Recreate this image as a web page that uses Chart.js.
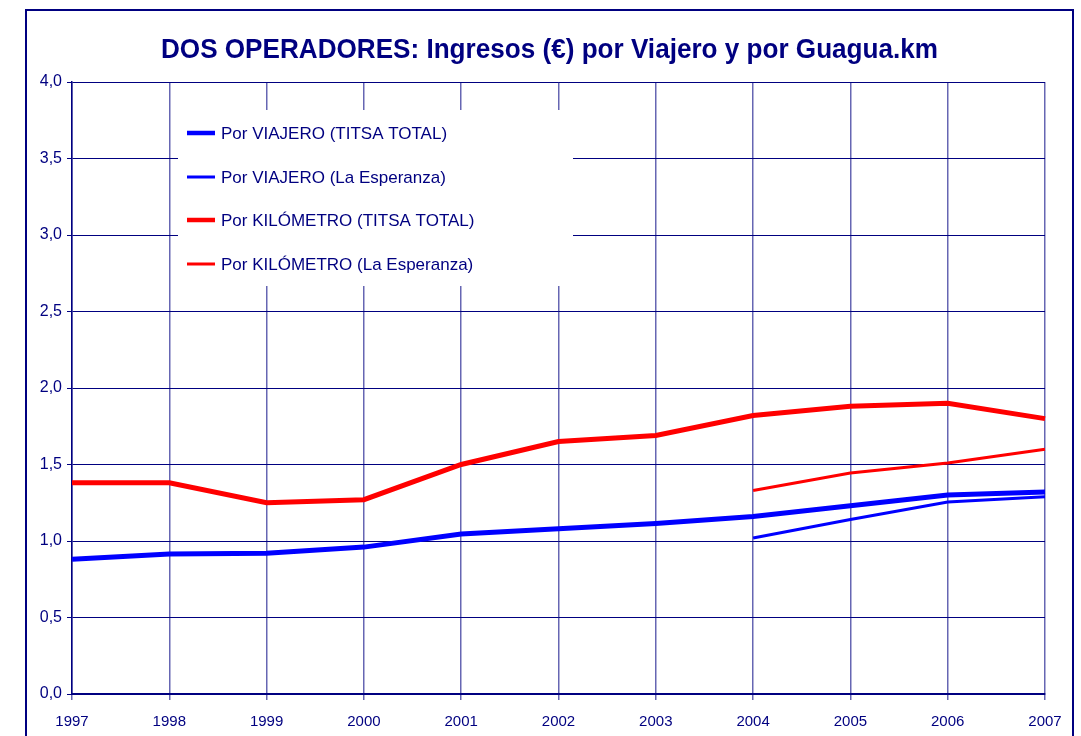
<!DOCTYPE html>
<html>
<head>
<meta charset="utf-8">
<script src="https://cdn.jsdelivr.net/npm/chart.js@4/dist/chart.umd.min.js"></script>
<style>
  body { margin: 0; background: #fff; }
  canvas { display: block; }
</style>
</head>
<body>
<canvas id="grafico" width="1081" height="736"></canvas>
<script>
// datos
const years = ['1997', '1998', '1999', '2000', '2001', '2002', '2003', '2004', '2005', '2006', '2007'];
const viajeroTitsa = [0.88, 0.915, 0.92, 0.96, 1.045, 1.08, 1.115, 1.16, 1.23, 1.30, 1.32];
const viajeroEsperanza = [null, null, null, null, null, null, null, 1.02, 1.14, 1.255, 1.29];
const kmTitsa = [1.38, 1.38, 1.25, 1.27, 1.50, 1.65, 1.69, 1.82, 1.88, 1.90, 1.80];
const kmEsperanza = [null, null, null, null, null, null, null, 1.33, 1.445, 1.51, 1.60];
const titulo = 'DOS OPERADORES: Ingresos (€) por Viajero y por Guagua.km';

const NAVY = '#000080';
const FONT = "'Liberation Sans', Arial, sans-serif";

// marco exterior y titulo (algo estrecho, como en el original)
const marco = {
  id: 'marco',
  beforeDraw(chart) {
    const ctx = chart.ctx;
    ctx.save();
    ctx.fillStyle = '#fff';
    ctx.fillRect(0, 0, chart.width, chart.height);
    ctx.strokeStyle = NAVY;
    ctx.lineWidth = 2;
    ctx.strokeRect(26, 10, 1047, 800);

    ctx.font = 'bold 28px ' + FONT;
    ctx.fillStyle = NAVY;
    ctx.textBaseline = 'alphabetic';
    ctx.textAlign = 'left';
    const w = ctx.measureText(titulo).width;
    ctx.translate(161, 58);
    ctx.scale(777 / w, 1);
    ctx.fillText(titulo, 0, 0);
    ctx.restore();
  }
};

// leyenda dentro del area del grafico, con fondo blanco
const leyenda = {
  id: 'leyenda',
  beforeDatasetsDraw(chart) {
    const ctx = chart.ctx;
    ctx.save();
    ctx.fillStyle = '#fff';
    ctx.fillRect(178, 110, 395, 176);
    ctx.font = '17px ' + FONT;
    ctx.textBaseline = 'middle';
    const filas = [133, 177, 220, 264];
    chart.data.datasets.forEach((ds, i) => {
      const y = filas[i];
      ctx.strokeStyle = ds.borderColor;
      ctx.lineWidth = ds.borderWidth > 4 ? 4.5 : 3;
      ctx.beginPath();
      ctx.moveTo(187, y);
      ctx.lineTo(215, y);
      ctx.stroke();
      ctx.fillStyle = NAVY;
      ctx.fillText(ds.label, 221, y + 1);
    });
    ctx.restore();
  }
};

new Chart(document.getElementById('grafico'), {
  type: 'line',
  data: {
    labels: years,
    datasets: [
      { label: 'Por VIAJERO (TITSA TOTAL)', data: viajeroTitsa, borderColor: '#0000ff', borderWidth: 5 },
      { label: 'Por VIAJERO (La Esperanza)', data: viajeroEsperanza, borderColor: '#0000ff', borderWidth: 3 },
      { label: 'Por KILÓMETRO (TITSA TOTAL)', data: kmTitsa, borderColor: '#ff0000', borderWidth: 5 },
      { label: 'Por KILÓMETRO (La Esperanza)', data: kmEsperanza, borderColor: '#ff0000', borderWidth: 3 }
    ]
  },
  options: {
    responsive: false,
    animation: false,
    spanGaps: false,
    elements: { point: { radius: 0 }, line: { tension: 0 } },
    layout: { padding: { left: 22, right: 36, top: 82, bottom: 6 } },
    plugins: {
      legend: { display: false },
      tooltip: { enabled: false },
      title: { display: false }
    },
    scales: {
      x: {
        offset: false,
        afterFit(scale) { scale.height = 36; },
        grid: { color: 'rgba(0, 0, 128, 0.6)', lineWidth: 1.5, tickLength: 6 },
        border: { color: NAVY, width: 2 },
        ticks: { color: NAVY, font: { family: FONT, size: 15 }, padding: 13, maxRotation: 0 }
      },
      y: {
        min: 0,
        max: 4,
        afterFit(scale) { scale.width = 50; },
        grid: { color: NAVY, lineWidth: 1, tickLength: 5 },
        border: { color: NAVY, width: 1.5 },
        ticks: {
          stepSize: 0.5,
          color: NAVY,
          font: { family: FONT, size: 16 },
          padding: 5,
          callback: v => v.toFixed(1).replace('.', ',')
        }
      }
    }
  },
  plugins: [marco, leyenda]
});
</script>
</body>
</html>
